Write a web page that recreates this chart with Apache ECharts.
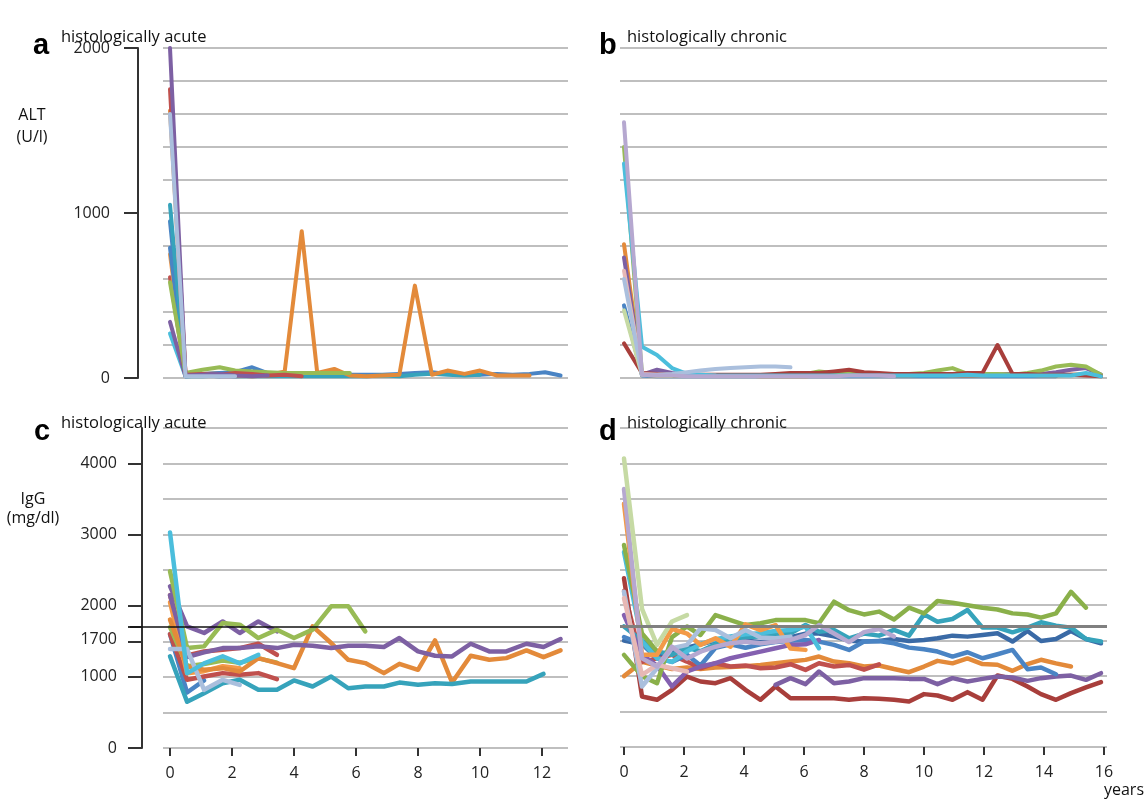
<!DOCTYPE html>
<html><head><meta charset="utf-8">
<script src="https://cdn.jsdelivr.net/npm/echarts@6/dist/echarts.min.js"></script>
<style>html,body{margin:0;padding:0;background:#fff}#c{width:1146px;height:803px}</style>
</head><body><div id="c"></div>
<script>
// ---------- time points (years) ----------
const tA = [0,0.5,1.05,1.6,2.1,2.65,3.15,3.7,4.25,4.75,5.3,5.8,6.35,6.85,7.4,7.9,8.45,8.95,9.5,10.0,10.55,11.05,11.6,12.1,12.6];
const tC = [0,0.55,1.1,1.7,2.25,2.85,3.45,4.0,4.6,5.2,5.75,6.3,6.9,7.4,8.0,8.55,9.1,9.7,10.3,10.85,11.5,12.05,12.6];
const tD = [0,0.6,1.1,1.6,2.1,2.55,3.05,3.55,4.05,4.55,5.05,5.55,6.05,6.5,7.0,7.5,8.0,8.5,9.0,9.5,10.0,10.45,10.95,11.45,11.95,12.45,12.95,13.45,13.9,14.4,14.9,15.4,15.9];

// ---------- tick labels ----------
const ticksC = [0,2,4,6,8,10,12];
const ticksD = [0,2,4,6,8,10,12,14,16];
const altLabels = [0,1000,2000];
const iggLabels = [0,1000,1700,2000,3000,4000];
const iggTicks = [0,1000,1500,1700,2000,3000,4000];
const iggNormal = 1700;

// ---------- panel a: ALT, histologically acute (U/l) ----------
const aCyan = [270,10,15,10];
const aPurple2 = [340,10,15,10,10,15,20,15];
const aGreen = [580,30,50,65,45,40,35,30,30,30,30,30];
const aRed2 = [610,15,20,20,15];
const aOrange2 = [750,20,25,30,30,25,20];
const aBlue2 = [790,15,20,20,25,20];
const aBlue = [950,20,25,30,35,65,30,20,15,15,20,20,20,20,25,30,35,25,20,20,25,20,25,35,15];
const aTeal = [1050,10,10,15,10,10,10,10,10,10,10,10,10,15,10,20,25,20,15,20];
const aOrange = [1620,20,15,20,15,10,15,40,890,30,55,15,10,15,20,560,20,45,25,45,15,15,15];
const aRed = [1750,20,25,20,30,25,15,20,10];
const aPurple = [2000,15,20,25,15,10,15];
const aPaleBlue = [1600,10,10,10,10];

// ---------- panel b: ALT, histologically chronic (U/l) ----------
const bRed = [210,30,25,20,20,20,20,20,20,20,25,30,30,30,40,50,35,30,25,25,25,25,25,30,30,200,25,25,20,20,20,15,10];
const bPaleGreen = [410,20,15,15];
const bBlue = [440,15,10,10,10,10,10,10,10,10,10,10,10,10,10,10,10,10,10,10,10,10,10,10,10,10,10,10,10,10];
const bPink = [650,25,20,20,15,15,15];
const bPurple = [730,20,50,30,20,15,15,15,15,15,15,15,15,20,20,20,20,20,20,20,20,25,25,20,20,20,25,25,25,35,50,60,20];
const bOrange = [810,20,15,15,15,15,15,15,15,10,10,10,10,15,15,20,20,15,15,15,20,20,15,15,15,20,25,20,15,15,20,25];
const bCyan = [1300,190,140,60,25,20,15,15,15,15,15,15,15,15,15,15,15,15,15,15,15,15,15,20,15,15,15,15,15,15,15,30,10];
const bGreen = [1400,25,20,15,15,15,15,15,15,15,15,20,25,40,30,30,25,20,20,25,30,45,60,25,25,25,20,30,45,70,80,70,20];
const bPaleBlue = [600,20,20,25,35,45,55,60,65,70,70,65];
const bLilac = [1550,20,15,15,10,10,10,10,10,10,10,10,10,10,10,15,15,15,10];

// ---------- panel c: IgG, histologically acute (mg/dl) ----------
const cBlue = [1600,780,950];
const cPaleBlue = [1391,1391,818,959,888];
const cRed2 = [1600,960,1006,1053,1030,1053,968];
const cRed = [2150,1300,1358,1382,1405,1466,1311];
const cGreen2 = [1700,1150,1180,1230,1200,1260,1200];
const cOrange = [2050,1050,1080,1150,1120];
const cOrangeLong = [1805,1147,1100,1123,1076,1264,1194,1123,1711,1476,1240,1194,1053,1184,1100,1513,921,1297,1240,1264,1372,1278,1372];
const cPurpleLong = [2150,1280,1344,1405,1405,1430,1405,1452,1438,1405,1438,1438,1420,1546,1358,1297,1288,1466,1358,1358,1466,1420,1532];
const cPurple = [2275,1710,1617,1780,1617,1780,1640];
const cGreen = [2486,1405,1429,1758,1734,1546,1664,1546,1664,1993,1993,1640];
const cTeal = [1290,650,770,910,960,820,820,950,865,1005,840,865,865,920,890,910,900,935,935,935,935,1043];
const cCyan = [3030,1050,1190,1290,1190,1310];

// ---------- panel d: IgG, histologically chronic (mg/dl) ----------
const dOrangeLong = [1000,1200,1150,1100,1120,1100,1120,1130,1140,1158,1182,1205,1229,1276,1205,1182,1135,1150,1100,1055,1135,1215,1180,1250,1170,1160,1075,1170,1230,1180,1135];
const dRedDark = [2380,713,666,807,994,924,900,971,807,666,854,689,689,689,689,666,689,680,666,643,746,727,666,774,666,1008,961,854,746,666,760,840,915];
const dRed = [2200,1200,1250,1300,1205,1111,1182,1135,1149,1111,1121,1168,1088,1182,1135,1158,1090,1165];
const dPurpleLow = [null,null,null,null,null,null,null,null,null,null,877,971,886,1065,900,924,971,971,971,961,961,886,971,924,961,994,980,933,971,994,1008,947,1041];
const dPurple = [1860,1300,1150,854,1065,1135,1182,1252,1299,1346,1393,1440,1449,1510];
const dBlue = [1550,1450,1250,1200,1300,1150,1400,1450,1400,1450,1480,1500,1510,1487,1440,1369,1487,1496,1463,1402,1380,1346,1276,1337,1252,1308,1369,1097,1121,1027];
const dBlueDark = [1500,1450,1300,1350,1400,1450,1500,1480,1500,1480,1500,1550,1600,1600,1560,1500,1487,1496,1524,1496,1510,1533,1571,1557,1580,1604,1487,1637,1496,1524,1637,1524,1463];
const dTeal = [1700,1500,1350,1300,1400,1350,1450,1500,1550,1560,1580,1604,1721,1627,1651,1533,1600,1571,1651,1571,1871,1768,1805,1932,1684,1684,1618,1684,1759,1712,1684,1524,1487];
const dCyan = [2750,1487,1252,1200,1350,1450,1520,1560,1590,1604,1637,1651,1698,1393];
const dGreen = [1300,1000,900,1550,1700,1580,1860,1790,1720,1745,1790,1790,1790,1745,2050,1930,1870,1910,1800,1965,1885,2060,2035,2000,1965,1940,1885,1870,1825,1885,2190,1965];
const dGreenHi = [2850,1600,1350];
const dPaleBlue = [2190,854,1111,1393,1440,1674,1651,1534,1651,1543,1534,1557];
const dPink = [2100,1018,1158,1111,1065];
const dOrangeHi = [3430,1300,1300,1665,1600,1440,1535,1415,1730,1650,1720,1390,1370];
const dLilac = [3640,1250,1135,1415,1250,1345,1415,1465,1485,1465,1485,1510,1580,1720,1600,1480,1620,1665,1560];
const dPaleGreen = [4070,1950,1440,1770,1860];

// ---------- styling ----------
const COL = {
  blue:'#4A84C4', blueDark:'#3A6AA6', red:'#C0504D', redDark:'#A83E3B', green:'#98BB55', greenDark:'#8AB04A',
  purple:'#7D60A3', purpleB:'#8460B0', teal:'#36A3BB', cyan:'#4BBEDC', orange:'#F39A48', orangeDark:'#E38A3A',
  paleBlue:'#AABFDD', lilac:'#B6A8D0', paleGreen:'#C6DAA4', pink:'#E7B8B5'
};
const GRIDLINE = '#BFBFBF';
const FONT = '"Open Sans", Lato, sans-serif';
const WA = 4, WC = 4.5;

function mk(t, vals, color, xi, yi, w) {
  return {
    type: 'line', xAxisIndex: xi, yAxisIndex: yi,
    data: vals.map((v, i) => [t[i], v]),
    symbol: 'none', silent: true, animation: false, connectNulls: false,
    lineStyle: { color: color, width: w, cap: 'round', join: 'round' },
    itemStyle: { color: color }
  };
}

const series = [
  // panel a
  mk(tA, aCyan, COL.cyan, 0, 0, WA),
  mk(tA, aPurple2, COL.purple, 0, 0, WA),
  mk(tA, aRed2, COL.red, 0, 0, WA),
  mk(tA, aOrange2, COL.orange, 0, 0, WA),
  mk(tA, aBlue2, COL.blue, 0, 0, WA),
  mk(tA, aBlue, COL.blue, 0, 0, WA),
  mk(tA, aTeal, COL.teal, 0, 0, WA),
  mk(tA, aOrange, COL.orangeDark, 0, 0, WA),
  mk(tA, aGreen, COL.green, 0, 0, WA),
  mk(tA, aRed, COL.red, 0, 0, WA),
  mk(tA, aPurple, COL.purple, 0, 0, WA),
  mk(tA, aPaleBlue, COL.paleBlue, 0, 0, WA),
  // panel b
  mk(tD, bBlue, COL.blue, 1, 2, WA),
  mk(tD, bOrange, COL.orangeDark, 1, 2, WA),
  mk(tD, bPurple, COL.purple, 1, 2, WA),
  mk(tD, bGreen, COL.green, 1, 2, WA),
  mk(tD, bRed, COL.redDark, 1, 2, WA),
  mk(tD, bPaleGreen, COL.paleGreen, 1, 2, WA),
  mk(tD, bPink, COL.pink, 1, 2, WA),
  mk(tD, bCyan, COL.cyan, 1, 2, WA),
  mk(tD, bPaleBlue, COL.paleBlue, 1, 2, WA),
  mk(tD, bLilac, COL.lilac, 1, 2, WA),
  // panel c
  mk(tC, cBlue, COL.blue, 2, 3, WC),
  mk(tC, cRed2, COL.red, 2, 3, WC),
  mk(tC, cRed, COL.red, 2, 3, WC),
  mk(tC, cGreen2, COL.green, 2, 3, WC),
  mk(tC, cOrange, COL.orange, 2, 3, WC),
  mk(tC, cOrangeLong, COL.orangeDark, 2, 3, WC),
  mk(tC, cPurpleLong, COL.purple, 2, 3, WC),
  mk(tC, cPurple, COL.purple, 2, 3, WC),
  mk(tC, cGreen, COL.green, 2, 3, WC),
  mk(tC, cTeal, COL.teal, 2, 3, WC),
  mk(tC, cPaleBlue, COL.paleBlue, 2, 3, WC),
  mk(tC, cCyan, COL.cyan, 2, 3, WC),
  // panel d
  mk(tD, dOrangeLong, COL.orangeDark, 3, 5, WC),
  mk(tD, dRed, COL.red, 3, 5, WC),
  mk(tD, dRedDark, COL.redDark, 3, 5, WC),
  mk(tD, dPurpleLow, COL.purple, 3, 5, WC),
  mk(tD, dBlueDark, COL.blueDark, 3, 5, WC),
  mk(tD, dBlue, COL.blue, 3, 5, WC),
  mk(tD, dTeal, COL.teal, 3, 5, WC),
  mk(tD, dPurple, COL.purpleB, 3, 5, WC),
  mk(tD, dCyan, COL.cyan, 3, 5, WC),
  mk(tD, dGreen, COL.greenDark, 3, 5, WC),
  mk(tD, dGreenHi, COL.greenDark, 3, 5, WC),
  mk(tD, dOrangeHi, COL.orange, 3, 5, WC),
  mk(tD, dPaleBlue, COL.paleBlue, 3, 5, WC),
  mk(tD, dPink, COL.pink, 3, 5, WC),
  mk(tD, dLilac, COL.lilac, 3, 5, WC),
  mk(tD, dPaleGreen, COL.paleGreen, 3, 5, WC)
];

// reference lines at the IgG upper normal limit
series[22].markLine = {
  silent: true, symbol: ['none','none'], animation: false,
  label: { show: false },
  lineStyle: { color: '#111', width: 1.5, type: 'solid' },
  data: [{ yAxis: iggNormal }]
};
series[34].markLine = {
  silent: true, symbol: ['none','none'], animation: false,
  label: { show: false },
  lineStyle: { color: '#808080', width: 3, type: 'solid' },
  data: [{ yAxis: iggNormal }]
};

function hiddenX(grid, min, max) {
  return { type:'value', gridIndex:grid, min:min, max:max,
    axisLine:{show:false}, axisTick:{show:false}, axisLabel:{show:false}, splitLine:{show:false} };
}
function tickX(grid, min, max, vals) {
  return { type:'value', gridIndex:grid, min:min, max:max, offset:6,
    axisLine:{show:false},
    axisTick:{show:true, customValues:vals, length:8, lineStyle:{color:'#333', width:2}},
    axisLabel:{show:true, customValues:vals, margin:11, fontSize:16, color:'#222', fontFamily:FONT,
      formatter: v => String(v)},
    splitLine:{show:false} };
}
function gridY(grid, max, step) {
  return { type:'value', gridIndex:grid, min:0, max:max, interval:step,
    axisLine:{show:false}, axisTick:{show:false}, axisLabel:{show:false},
    splitLine:{show:true, lineStyle:{color:GRIDLINE, width:2}} };
}

const option = {
  backgroundColor: '#fff',
  animation: false,
  grid: [
    { left:163, top:48, width:405, height:330, containLabel:false, outerBoundsMode:'none' },
    { left:620, top:48, width:487, height:330, containLabel:false, outerBoundsMode:'none' },
    { left:163, top:428, width:405, height:320, containLabel:false, outerBoundsMode:'none' },
    { left:620, top:428, width:487, height:319, containLabel:false, outerBoundsMode:'none' }
  ],
  xAxis: [
    hiddenX(0, -0.226, 12.84),
    hiddenX(1, -0.133, 16.1),
    tickX(2, -0.226, 12.84, ticksC),
    tickX(3, -0.133, 16.1, ticksD)
  ],
  yAxis: [
    gridY(0, 2000, 200),
    { type:'value', gridIndex:0, min:0, max:2000, position:'left', offset:25,
      axisLine:{show:true, lineStyle:{color:'#333', width:2}},
      axisTick:{show:true, customValues:altLabels, length:14, lineStyle:{color:'#333', width:2}},
      axisLabel:{show:true, customValues:altLabels, margin:28, fontSize:16, color:'#222', fontFamily:FONT,
        formatter: v => String(v)},
      splitLine:{show:false} },
    gridY(1, 2000, 200),
    gridY(2, 4500, 500),
    { type:'value', gridIndex:2, min:0, max:4500, position:'left', offset:21,
      axisLine:{show:true, lineStyle:{color:'#333', width:2}},
      axisTick:{show:true, customValues:iggTicks, length:14, lineStyle:{color:'#333', width:2}},
      axisLabel:{show:true, customValues:iggLabels, margin:25, fontSize:16, color:'#222', fontFamily:FONT,
        formatter: v => v === iggNormal ? '{s|' + v + '}' : String(v),
        rich: { s: { fontSize:16, color:'#222', fontFamily:FONT, padding:[24,0,0,0] } } },
      splitLine:{show:false} },
    gridY(3, 4500, 500)
  ],
  series: series
};

const chart = echarts.init(document.getElementById('c'), null, { renderer:'canvas' });
chart.setOption(option);

// text and the left extension of the 1700 reference line
const y1700 = chart.convertToPixel({ yAxisIndex: 3 }, iggNormal);
const xLeftC = chart.convertToPixel({ xAxisIndex: 2 }, -0.226);
const TF = '16.5px ' + FONT;
const LF = '16px ' + FONT;
const BF = 'bold 29px "Liberation Sans", Arial, sans-serif';
chart.setOption({
  graphic: [
    { type:'line', shape:{ x1:130, y1:y1700, x2:xLeftC, y2:y1700 }, style:{ stroke:'#111', lineWidth:1.5 }, z:10 },
    { type:'text', style:{ text:'a', x:33, y:31, font:BF, fill:'#000', textVerticalAlign:'alphabetic' } },
    { type:'text', style:{ text:'histologically acute', x:61, y:29, font:TF, fill:'#111', textVerticalAlign:'alphabetic' } },
    { type:'text', style:{ text:'b', x:599, y:31, font:BF, fill:'#000', textVerticalAlign:'alphabetic' } },
    { type:'text', style:{ text:'histologically chronic', x:627, y:29, font:TF, fill:'#111', textVerticalAlign:'alphabetic' } },
    { type:'text', style:{ text:'c', x:34, y:417, font:BF, fill:'#000', textVerticalAlign:'alphabetic' } },
    { type:'text', style:{ text:'histologically acute', x:61, y:415, font:TF, fill:'#111', textVerticalAlign:'alphabetic' } },
    { type:'text', style:{ text:'d', x:599, y:417, font:BF, fill:'#000', textVerticalAlign:'alphabetic' } },
    { type:'text', style:{ text:'histologically chronic', x:627, y:415, font:TF, fill:'#111', textVerticalAlign:'alphabetic' } },
    { type:'text', style:{ text:'ALT', x:32, y:115, font:LF, fill:'#111', textAlign:'center', textVerticalAlign:'middle' } },
    { type:'text', style:{ text:'(U/l)', x:32, y:137, font:LF, fill:'#111', textAlign:'center', textVerticalAlign:'middle' } },
    { type:'text', style:{ text:'IgG', x:33, y:499, font:LF, fill:'#111', textAlign:'center', textVerticalAlign:'middle' } },
    { type:'text', style:{ text:'(mg/dl)', x:33, y:518, font:LF, fill:'#111', textAlign:'center', textVerticalAlign:'middle' } },
    { type:'text', style:{ text:'years', x:1124, y:790, font:LF, fill:'#111', textAlign:'center', textVerticalAlign:'middle' } }
  ]
});
</script>
</body></html>
